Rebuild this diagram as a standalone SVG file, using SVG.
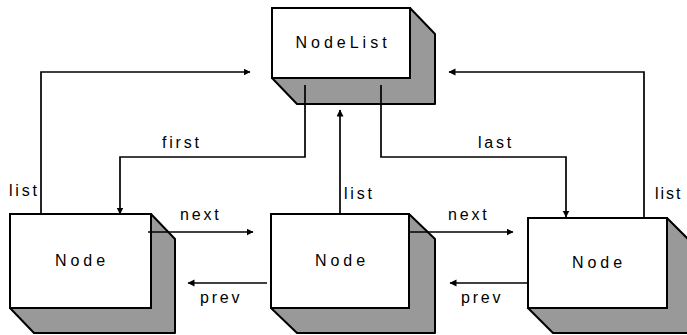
<svg xmlns="http://www.w3.org/2000/svg" width="687" height="335" viewBox="0 0 687 335">
<style>
.front{fill:#ffffff;stroke:#000;stroke-width:2}
.depth{fill:#999999;stroke:#000;stroke-width:2;stroke-linejoin:round}
.ntext{font-family:"Liberation Sans",Arial,sans-serif;font-size:16px;letter-spacing:4px;fill:#000}
.lbl{font-family:"Liberation Sans",Arial,sans-serif;font-size:16px;letter-spacing:2.8px;fill:#000}
.conn{fill:none;stroke:#000;stroke-width:1.7}
</style>
<defs>
<marker id="arr" markerUnits="userSpaceOnUse" markerWidth="8" markerHeight="8" refX="6.5" refY="3.5" orient="auto">
<path d="M0,0 L7,3.5 L0,7 z" fill="#000"/>
</marker>
</defs>
<rect width="687" height="335" fill="#ffffff"/>
<g id="nodelist">
<path class="depth" d="M410,8 L435,34 L435,104 L297,104 L272,78 L410,78 Z"/>
<rect class="front" x="272" y="8" width="138" height="70"/>
<text class="ntext" x="343" y="48" text-anchor="middle">NodeList</text>
</g>
<g id="node1">
<path class="depth" d="M151,214 L175,239 L175,333 L34,333 L10,308 L151,308 Z"/>
<rect class="front" x="10" y="214" width="141" height="94"/>
<text class="ntext" x="82" y="266" text-anchor="middle">Node</text>
</g>
<g id="node2">
<path class="depth" d="M409,214 L435,239 L435,333 L297,333 L271,308 L409,308 Z"/>
<rect class="front" x="271" y="214" width="138" height="94"/>
<text class="ntext" x="342" y="266" text-anchor="middle">Node</text>
</g>
<g id="node3">
<path class="depth" d="M667,218 L692,243 L692,333 L553,333 L528,308 L667,308 Z"/>
<rect class="front" x="528" y="218" width="139" height="90"/>
<text class="ntext" x="599" y="268" text-anchor="middle">Node</text>
</g>
<g id="connectors">
<path class="conn" d="M41,214 V72 H250" marker-end="url(#arr)"/>
<path class="conn" d="M305,85 V157 H120 V214" marker-end="url(#arr)"/>
<path class="conn" d="M340,214 V110" marker-end="url(#arr)"/>
<path class="conn" d="M381,85 V157 H566 V217" marker-end="url(#arr)"/>
<path class="conn" d="M644,218 V72 H449" marker-end="url(#arr)"/>
<path class="conn" d="M148,232 H253" marker-end="url(#arr)"/>
<path class="conn" d="M267,283 H188" marker-end="url(#arr)"/>
<path class="conn" d="M410,232 H513" marker-end="url(#arr)"/>
<path class="conn" d="M528,283 H450" marker-end="url(#arr)"/>
</g>
<g id="labels">
<text class="lbl" x="9" y="196">list</text>
<text class="lbl" x="162" y="148">first</text>
<text class="lbl" x="478" y="148">last</text>
<text class="lbl" x="344" y="199">list</text>
<text class="lbl" x="655" y="199" style="letter-spacing:2px">list</text>
<text class="lbl" x="180" y="220">next</text>
<text class="lbl" x="448" y="220">next</text>
<text class="lbl" x="200" y="303">prev</text>
<text class="lbl" x="461" y="303">prev</text>
</g>
</svg>
